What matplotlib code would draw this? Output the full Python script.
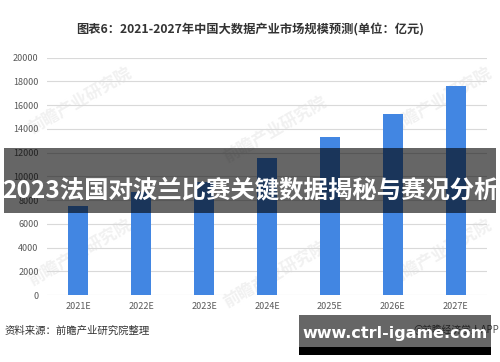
import matplotlib
matplotlib.use("Agg")
import matplotlib.pyplot as plt
from matplotlib.patches import Rectangle

plt.rcParams["font.family"] = ["Noto Sans CJK SC", "DejaVu Sans"]

years = ["2021E", "2022E", "2023E", "2024E", "2025E", "2026E", "2027E"]
market_size = [7500, 8700, 9500, 11550, 13280, 15280, 17570]
y_ticks = [0, 2000, 4000, 6000, 8000, 10000, 12000, 14000, 16000, 18000, 20000]

title = "图表6：2021-2027年中国大数据产业市场规模预测(单位：亿元)"
source = "资料来源：前瞻产业研究院整理"
banner = "2023法国对波兰比赛关键数据揭秘与赛况分析"
site = "www.ctrl-igame.com"

fig = plt.figure(figsize=(5, 3.62), dpi=100)

# faint watermarks behind the chart
for x, y in [(0.16, 0.72), (0.55, 0.64), (0.88, 0.72), (0.16, 0.30), (0.55, 0.24), (0.88, 0.30)]:
    fig.text(x, y, "前瞻产业研究院", fontsize=12, color="#f1f1f1", rotation=30,
             ha="center", va="center", fontweight="bold", zorder=-1)

ax = fig.add_axes([0.094, 0.185, 0.88, 0.656])
ax.set_facecolor("none")
ax.bar(range(len(years)), market_size, width=0.32, color="#4286e2", zorder=3)
ax.set_xlim(-0.5, len(years) - 0.5)
ax.set_ylim(0, 20000)
ax.set_yticks(y_ticks)
ax.set_yticklabels([str(v) for v in y_ticks])
ax.set_xticks(range(len(years)))
ax.set_xticklabels(years)
ax.grid(axis="y", color="#d9d9d9", linewidth=0.8, zorder=0)
for s in ax.spines.values():
    s.set_visible(False)
ax.tick_params(length=0, labelsize=6.5, labelcolor="#595959")
ax.tick_params(axis="y", pad=6)
ax.tick_params(axis="x", pad=5)

fig.text(0.5, 0.917, title, ha="center", va="center", fontsize=8.8,
         fontweight="bold", color="#333333")
fig.text(0.01, 0.086, source, ha="left", va="center", fontsize=7.5, color="#333333")
fig.text(0.826, 0.088, "@前瞻经济学人APP", ha="left", va="center", fontsize=7,
         color="#555555")

# overlay banners
fig.add_artist(Rectangle((0.008, 0.4116), 0.984, 0.1796, transform=fig.transFigure,
                         facecolor="black", alpha=0.6, edgecolor="none", zorder=5))
fig.text(0.5, 0.475, banner, ha="center", va="center", fontsize=17.6,
         fontweight="bold", color="white", zorder=6)

fig.add_artist(Rectangle((0.598, 0.0414), 0.384, 0.0884, transform=fig.transFigure,
                         facecolor="black", alpha=0.6, edgecolor="none", zorder=5))
fig.add_artist(Rectangle((0.598, 0.0193), 0.384, 0.0221, transform=fig.transFigure,
                         facecolor="black", edgecolor="none", zorder=5))
fig.text(0.79, 0.078, site, ha="center", va="center", fontsize=11.5,
         fontweight="bold", color="white", family=["DejaVu Sans"], zorder=6)

fig.savefig("out.png", dpi=100)
